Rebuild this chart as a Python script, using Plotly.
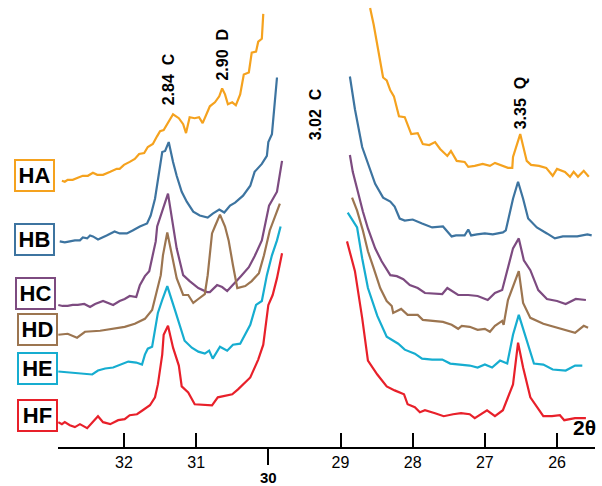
import plotly.graph_objects as go

# ---------------- data (2θ in degrees, intensity in arbitrary stacked units) ----------------
HA_left_x = [32.86, 32.82, 32.78, 32.71, 32.64, 32.57, 32.50, 32.43, 32.37, 32.29, 32.19, 32.10, 32.06, 32.00,
             31.92, 31.85, 31.79, 31.72, 31.67, 31.60, 31.54, 31.50, 31.45, 31.39, 31.32, 31.24, 31.18, 31.14,
             31.09, 31.02, 30.96, 30.91, 30.81, 30.74, 30.68, 30.64, 30.60, 30.56, 30.50, 30.45, 30.39, 30.34,
             30.27, 30.23, 30.17, 30.14, 30.09, 30.07]
HA_left_y = [268, 267, 269, 269, 271, 273, 273, 276, 274, 274, 277, 280, 280, 284, 287, 290, 295, 296, 302, 305,
             313, 318, 319, 326, 335, 331, 325, 316, 332, 331, 332, 326, 343, 347, 353, 361, 355, 345, 347, 344,
             355, 375, 377, 397, 398, 408, 411, 436]
HA_right_x = [28.59, 28.54, 28.41, 28.36, 28.31, 28.26, 28.19, 28.11, 28.02, 27.93, 27.86, 27.77, 27.69, 27.62,
              27.52, 27.47, 27.39, 27.28, 27.23, 27.14, 27.03, 26.93, 26.86, 26.76, 26.68, 26.62, 26.61, 26.51,
              26.42, 26.36, 26.25, 26.15, 26.06, 26.00, 25.89, 25.82, 25.77, 25.71, 25.63, 25.56]
HA_right_y = [442, 425, 372, 369, 359, 353, 333, 332, 315, 316, 305, 304, 307, 300, 293, 298, 288, 287, 282, 283,
              285, 283, 286, 283, 281, 281, 292, 315, 288, 284, 283, 281, 273, 280, 277, 272, 277, 272, 278, 272]

HB_left_x = [32.89, 32.82, 32.75, 32.68, 32.61, 32.57, 32.51, 32.47, 32.43, 32.36, 32.24, 32.13, 32.06, 31.96,
             31.88, 31.78, 31.68, 31.63, 31.57, 31.53, 31.47, 31.43, 31.38, 31.32, 31.27, 31.20, 31.13, 31.04,
             30.95, 30.84, 30.77, 30.68, 30.61, 30.53, 30.46, 30.35, 30.25, 30.19, 30.09, 30.02, 30.00, 29.95, 29.88]
HB_left_y = [207, 206, 207, 208, 208, 211, 210, 213, 212, 209, 213, 217, 215, 215, 218, 222, 225, 233, 250, 270,
             297, 298, 307, 287, 273, 257, 247, 237, 233, 231, 235, 239, 236, 243, 246, 253, 263, 277, 285, 293,
             307, 315, 372]
HB_right_x = [28.87, 28.80, 28.70, 28.62, 28.52, 28.41, 28.31, 28.25, 28.18, 28.11, 28.00, 27.87, 27.73, 27.58,
              27.46, 27.40, 27.28, 27.23, 27.19, 27.11, 27.00, 26.89, 26.75, 26.71, 26.65, 26.61, 26.54, 26.47,
              26.40, 26.28, 26.14, 26.03, 25.92, 25.72, 25.58, 25.52]
HB_right_y = [373, 340, 302, 285, 265, 251, 247, 242, 230, 228, 229, 225, 221, 222, 212, 213, 213, 219, 213, 214,
              215, 214, 216, 218, 237, 250, 267, 250, 230, 221, 215, 210, 212, 212, 214, 213]

HC_left_x = [32.91, 32.85, 32.78, 32.71, 32.64, 32.55, 32.47, 32.40, 32.29, 32.22, 32.15, 32.06, 31.99, 31.92,
             31.83, 31.78, 31.71, 31.65, 31.61, 31.56, 31.54, 31.39, 31.27, 31.18, 31.09, 30.97, 30.85, 30.81,
             30.71, 30.64, 30.57, 30.49, 30.38, 30.27, 30.19, 30.09, 29.99, 29.88, 29.81]
HC_left_y = [143, 142, 142, 143, 143, 144, 141, 144, 147, 145, 143, 147, 149, 152, 151, 163, 172, 177, 190, 207,
             222, 255, 200, 173, 167, 160, 156, 156, 163, 161, 157, 163, 172, 181, 192, 208, 243, 257, 288]
HC_right_x = [28.87, 28.83, 28.77, 28.69, 28.62, 28.52, 28.43, 28.31, 28.22, 28.13, 28.04, 27.93, 27.83, 27.69,
              27.59, 27.52, 27.46, 27.37, 27.23, 27.10, 26.96, 26.86, 26.76, 26.65, 26.61, 26.53, 26.46, 26.37,
              26.26, 26.14, 26.00, 25.88, 25.74, 25.60]
HC_right_y = [294, 277, 260, 237, 220, 200, 187, 173, 172, 169, 163, 160, 155, 154, 154, 160, 157, 153, 153, 152,
              148, 155, 158, 188, 200, 210, 188, 178, 158, 149, 147, 144, 149, 148]

HD_left_x = [32.91, 32.78, 32.65, 32.54, 32.33, 32.17, 31.99, 31.85, 31.71, 31.61, 31.54, 31.49, 31.46, 31.40,
             31.27, 31.18, 31.11, 31.04, 30.97, 30.88, 30.84, 30.78, 30.74, 30.67, 30.60, 30.55, 30.49, 30.43,
             30.32, 30.23, 30.13, 30.06, 29.98, 29.89, 29.84]
HD_left_y = [113, 114, 110, 116, 117, 119, 121, 124, 129, 138, 157, 173, 193, 216, 170, 153, 153, 145, 149, 154,
             173, 215, 222, 234, 222, 208, 183, 160, 162, 167, 175, 193, 218, 235, 245]
HD_right_x = [28.84, 28.77, 28.69, 28.62, 28.55, 28.45, 28.36, 28.29, 28.27, 28.16, 28.07, 27.93, 27.86, 27.72,
              27.58, 27.46, 27.37, 27.32, 27.21, 27.10, 27.00, 26.93, 26.86, 26.76, 26.74, 26.68, 26.53, 26.47,
              26.37, 26.19, 26.00, 25.75, 25.63, 25.57]
HD_right_y = [251, 238, 218, 197, 182, 160, 147, 142, 135, 139, 133, 133, 128, 127, 126, 123, 119, 122, 121, 118,
              119, 116, 122, 127, 123, 148, 177, 145, 130, 124, 120, 115, 122, 120]

HE_left_x = [32.91, 32.78, 32.61, 32.44, 32.36, 32.26, 32.15, 32.03, 31.94, 31.83, 31.75, 31.71, 31.67, 31.61,
             31.57, 31.53, 31.47, 31.40, 31.29, 31.22, 31.16, 31.06, 30.97, 30.88, 30.82, 30.77, 30.67, 30.57,
             30.49, 30.39, 30.32, 30.25, 30.17, 30.09, 30.02, 29.95, 29.88, 29.83]
HE_left_y = [76, 75, 74, 73, 77, 79, 80, 83, 86, 85, 83, 93, 99, 101, 117, 135, 148, 162, 137, 120, 107, 100, 96,
             94, 97, 89, 101, 97, 103, 104, 113, 123, 143, 147, 173, 193, 208, 222]
HE_right_x = [28.90, 28.77, 28.70, 28.62, 28.49, 28.36, 28.20, 28.11, 27.97, 27.87, 27.73, 27.59, 27.48, 27.34,
              27.21, 27.10, 27.00, 26.90, 26.79, 26.69, 26.61, 26.53, 26.42, 26.32, 26.19, 26.06, 25.88, 25.75, 25.65]
HE_right_y = [236, 221, 190, 160, 132, 111, 104, 98, 94, 89, 88, 88, 84, 83, 82, 80, 83, 80, 87, 84, 113, 133, 108,
              84, 83, 78, 77, 82, 82]

HF_left_x = [32.91, 32.86, 32.82, 32.75, 32.68, 32.61, 32.51, 32.36, 32.29, 32.19, 32.08, 31.99, 31.92, 31.82,
             31.74, 31.64, 31.57, 31.53, 31.47, 31.45, 31.39, 31.32, 31.24, 31.20, 31.11, 31.02, 30.78, 30.70,
             30.50, 30.42, 30.25, 30.14, 30.07, 30.02, 30.00, 29.94, 29.88, 29.81]
HF_left_y = [25, 23, 25, 22, 20, 23, 19, 31, 25, 23, 27, 28, 32, 33, 37, 42, 50, 63, 93, 113, 122, 100, 82, 61, 55,
             43, 42, 50, 53, 58, 70, 88, 103, 130, 143, 153, 170, 195]
HF_right_x = [28.91, 28.80, 28.70, 28.62, 28.49, 28.36, 28.25, 28.12, 28.07, 27.97, 27.90, 27.83, 27.69, 27.57,
              27.44, 27.33, 27.21, 27.14, 26.97, 26.86, 26.75, 26.61, 26.54, 26.47, 26.37, 26.28, 26.19, 26.07,
              25.96, 25.90, 25.82, 25.75, 25.60]
HF_right_y = [207, 177, 130, 87, 73, 61, 57, 53, 43, 40, 35, 37, 34, 31, 33, 34, 33, 29, 37, 31, 37, 63, 105, 80,
              50, 40, 31, 31, 32, 27, 28, 29, 29]

sample_names = ["HA", "HB", "HC", "HD", "HE", "HF"]
sample_colors = ["#F5A21E", "#3D74A0", "#7D4B80", "#9C7550", "#16ADD0", "#E8202A"]
label_levels = [273, 209, 154.5, 118, 79.5, 31.5]        # intensity level where each sample box sits
label_xpos = [-0.0438, -0.0438, -0.0419, -0.0391, -0.0391, -0.0382]

peak_labels = ["2.84\u00a0\u00a0C", "2.90\u00a0\u00a0D", "3.02\u00a0\u00a0C", "3.35\u00a0\u00a0Q"]
peak_x = [31.39, 30.64, 29.35, 26.51]
peak_y = [342, 367, 307, 318]

tick_vals = [32, 31, 29, 28, 27, 26]
tick_text = ["32", "31", "29", "28", "27", "26"]
special_tick = [30]

series = [
    (HA_left_x, HA_left_y, HA_right_x, HA_right_y),
    (HB_left_x, HB_left_y, HB_right_x, HB_right_y),
    (HC_left_x, HC_left_y, HC_right_x, HC_right_y),
    (HD_left_x, HD_left_y, HD_right_x, HD_right_y),
    (HE_left_x, HE_left_y, HE_right_x, HE_right_y),
    (HF_left_x, HF_left_y, HF_right_x, HF_right_y),
]

FONT = "Liberation Sans, Arial, sans-serif"

fig = go.Figure()
for name, color, (lx, ly, rx, ry) in zip(sample_names, sample_colors, series):
    fig.add_trace(go.Scatter(
        x=lx + [None] + rx, y=ly + [None] + ry, mode="lines", name=name,
        line=dict(color=color, width=2.2), connectgaps=False, showlegend=False, hoverinfo="skip"))

# invisible trace bound to the secondary x-axis (for the special "30" tick)
fig.add_trace(go.Scatter(x=special_tick, y=[None], xaxis="x2", mode="lines", showlegend=False, hoverinfo="skip"))

annotations = []
for name, color, lvl, xp in zip(sample_names, sample_colors, label_levels, label_xpos):
    annotations.append(dict(
        text="<b>%s</b>" % name, xref="paper", yref="y", x=xp, y=lvl, showarrow=False,
        xanchor="center", yanchor="middle", width=35, height=27, borderpad=1, borderwidth=2,
        bordercolor=color, bgcolor="white", font=dict(family=FONT, size=22, color="black")))
for t, px, py in zip(peak_labels, peak_x, peak_y):
    annotations.append(dict(
        text="<b>%s</b>" % t, x=px, y=py, xref="x", yref="y", showarrow=False, textangle=-90,
        xanchor="center", yanchor="bottom", font=dict(family=FONT, size=16, color="black")))
annotations.append(dict(
    text="<b>2θ</b>", xref="paper", yref="paper", x=0.981, y=0.044, showarrow=False,
    xanchor="center", yanchor="middle", font=dict(family=FONT, size=21, color="black")))

xrange = [32.914, 25.474]
fig.update_layout(
    width=602, height=486, margin=dict(l=58, r=7, t=0, b=36),
    paper_bgcolor="white", plot_bgcolor="white",
    xaxis=dict(range=xrange, showgrid=False, zeroline=False, showline=True, linecolor="black", linewidth=2,
               ticks="inside", ticklen=14, tickwidth=2, tickcolor="black",
               tickvals=tick_vals, ticktext=tick_text,
               tickfont=dict(family=FONT, size=16, color="black")),
    xaxis2=dict(range=xrange, overlaying="x", anchor="y", side="bottom", showgrid=False, zeroline=False,
                showline=False, ticks="outside", ticklen=17, tickwidth=2, tickcolor="black",
                tickvals=special_tick, ticktext=["<b>30</b>"],
                tickfont=dict(family=FONT, size=15, color="black")),
    yaxis=dict(range=[0, 450], visible=False),
    annotations=annotations,
    showlegend=False,
)

fig.write_html("out.html")
